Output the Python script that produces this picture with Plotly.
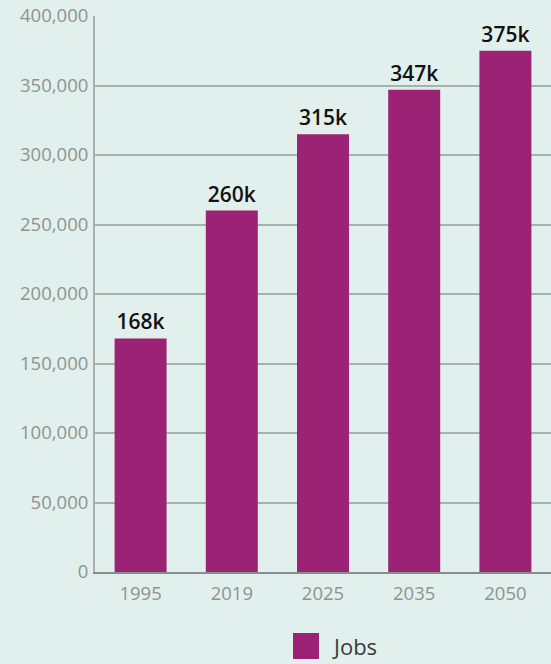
import plotly.graph_objects as go

years = ["1995", "2019", "2025", "2035", "2050"]
jobs = [168000, 260000, 315000, 347000, 375000]
labels = ["168k", "260k", "315k", "347k", "375k"]
series_name = "Jobs"

BG = "#e1f0ec"
BAR = "#9b2275"
TICK = "#8e9391"

fig = go.Figure()
fig.add_trace(go.Bar(
    x=years, y=jobs, text=labels, textposition="outside",
    textfont=dict(family="Open Sans", size=21, color="#111111", weight=600),
    marker=dict(color=BAR, line=dict(width=0)),
    name=series_name, showlegend=False, cliponaxis=False,
))

fig.update_layout(
    width=551, height=664,
    margin=dict(l=95, r=0, t=16, b=92),
    paper_bgcolor=BG, plot_bgcolor=BG,
    bargap=0.43,
    font=dict(family="Open Sans"),
    xaxis=dict(showgrid=False, showline=True, linecolor="#868d8b", linewidth=2,
               tickfont=dict(size=18.5, color=TICK), ticks="", ticklabelstandoff=4),
    yaxis=dict(range=[0, 400000], dtick=50000, tickformat=",",
               showgrid=True, gridcolor="#a9b1af", gridwidth=1.5,
               showline=True, linecolor="#a9b1af", linewidth=2,
               zeroline=False,
               tickfont=dict(size=18.5, color=TICK), ticks="", ticklabelstandoff=1),
)

# Legend (drawn manually to match the large swatch)
fig.add_shape(type="rect", xref="paper", yref="paper",
              x0=(293 - 95) / 456, x1=(319 - 95) / 456,
              y0=-(659 - 572) / 556, y1=-(633 - 572) / 556,
              fillcolor=BAR, line=dict(width=0))
fig.add_annotation(xref="paper", yref="paper", x=(330 - 95) / 456, y=-(646 - 572) / 556,
                   text=series_name, showarrow=False, xanchor="left", yanchor="middle",
                   font=dict(family="Open Sans", size=22, color="#3a3a3a"))

fig.write_html("out.html")
